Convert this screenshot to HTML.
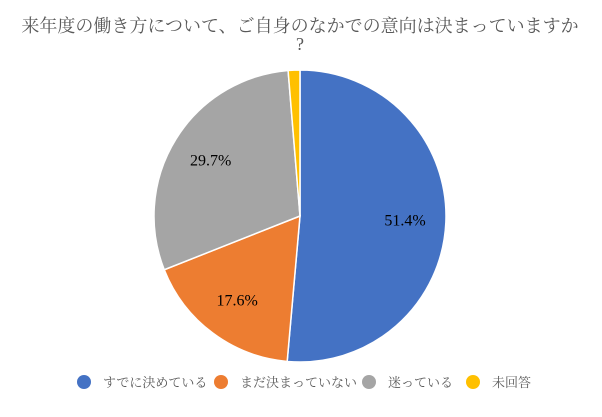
<!DOCTYPE html>
<html><head><meta charset="utf-8"><style>
body{margin:0;background:#fff;width:602px;height:412px;overflow:hidden}
</style></head><body>
<svg id="chart" width="602" height="412" xmlns="http://www.w3.org/2000/svg">
<text x="300" y="32" text-anchor="middle" font-family="'Liberation Serif','Noto Serif CJK SC',serif" font-size="18" fill="#595959">来年度の働き方について、ご自身のなかでの意向は決まっていますか</text>
<text x="300" y="50" text-anchor="middle" font-family="'Liberation Serif','Noto Serif CJK SC',serif" font-size="18" fill="#595959">?</text>
<g id="slices"></g>
<g id="labels"></g>
<g id="legend"></g>
</svg>
<script>
const categories=["すでに決めている","まだ決まっていない","迷っている","未回答"];
const values=[51.4,17.6,29.7,1.3];
const valueLabels=["51.4%","17.6%","29.7%",""];
const colors=["#4472C4","#ED7D31","#A5A5A5","#FFC000"];
const ns="http://www.w3.org/2000/svg";
const cx=300,cy=216,r=146;
const total=values.reduce((a,b)=>a+b,0);
const sl=document.getElementById('slices'),lb=document.getElementById('labels'),lg=document.getElementById('legend');
function pt(a,rr){return [cx+rr*Math.sin(a),cy-rr*Math.cos(a)];}
let a0=0;
values.forEach((v,i)=>{
  const a1=a0+v/total*2*Math.PI;
  const p0=pt(a0,r),p1=pt(a1,r);
  const p=document.createElementNS(ns,'path');
  p.setAttribute('d',`M${cx},${cy}L${p0[0]},${p0[1]}A${r},${r} 0 ${a1-a0>Math.PI?1:0} 1 ${p1[0]},${p1[1]}Z`);
  p.setAttribute('fill',colors[i]);p.setAttribute('stroke','#fff');p.setAttribute('stroke-width','1.5');
  
  
  sl.appendChild(p);
  if(valueLabels[i]){
    const m=pt((a0+a1)/2,r*0.72);
    const t=document.createElementNS(ns,'text');
    t.setAttribute('x',m[0]);t.setAttribute('y',m[1]+5);t.setAttribute('text-anchor','middle');
    t.setAttribute('font-family',"'Liberation Serif',serif");t.setAttribute('font-size','16');
    t.textContent=valueLabels[i];
    
    
    lb.appendChild(t);
  }
  a0=a1;
});
const lx=[84,221,369,473];
categories.forEach((c,i)=>{
  const g=document.createElementNS(ns,'g');
  
  
  const ci=document.createElementNS(ns,'circle');
  ci.setAttribute('cx',lx[i]);ci.setAttribute('cy',382);ci.setAttribute('r',7);ci.setAttribute('fill',colors[i]);
  g.appendChild(ci);
  const t=document.createElementNS(ns,'text');
  t.setAttribute('x',lx[i]+19);t.setAttribute('y',387);
  t.setAttribute('font-family',"'Liberation Serif','Noto Serif CJK SC',serif");t.setAttribute('font-size','13');t.setAttribute('fill','#595959');
  t.textContent=c;
  g.appendChild(t);
  lg.appendChild(g);
});
</script>
</body></html>
